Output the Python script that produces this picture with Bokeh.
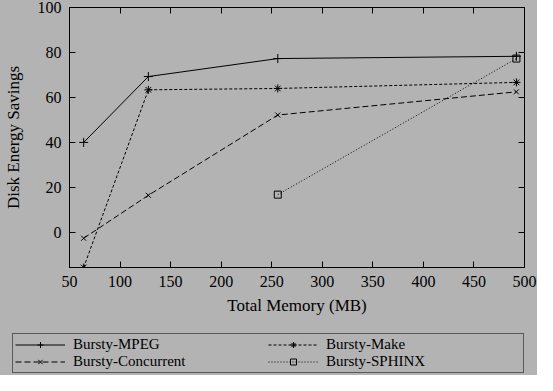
from bokeh.plotting import figure
from bokeh.layouts import column
from bokeh.models import Range1d, FixedTicker, Legend, LegendItem, LinearAxis, CustomJSTickFormatter
from bokeh.embed import file_html
from bokeh.resources import INLINE

memory = [64, 128, 256, 492]
mpeg = [40, 69.3, 77.3, 78.3]
make = [-15.6, 63.4, 64.0, 66.7]
concurrent = [-2.6, 16.5, 52.2, 62.5]
sphinx_mem = [256, 492]
sphinx = [16.8, 77.3]

x_ticks = [50, 100, 150, 200, 250, 300, 350, 400, 450, 500]
y_ticks = [0, 20, 40, 60, 80, 100]

BG = "#b3b3b3"
FONT = "Liberation Serif"

p = figure(width=537, height=332, output_backend="svg", toolbar_location=None,
           x_range=Range1d(50, 500), y_range=Range1d(-15.6, 100),
           background_fill_color=BG, border_fill_color=BG,
           min_border_left=69, min_border_right=13, min_border_top=7, min_border_bottom=65)
p.grid.visible = False
p.outline_line_color = "black"
p.outline_line_width = 1

for ax in (p.xaxis[0], p.yaxis[0]):
    ax.minor_tick_line_color = None
    ax.major_tick_in = 6
    ax.major_tick_out = 0
    ax.major_label_text_font = FONT
    ax.major_label_text_font_size = "16px"
    ax.major_label_text_color = "black"
    ax.axis_label_text_font = FONT
    ax.axis_label_text_font_size = "17px"
    ax.axis_label_text_font_style = "normal"
    ax.axis_label_text_color = "black"
    ax.axis_line_color = "black"
p.xaxis.ticker = FixedTicker(ticks=x_ticks)
p.yaxis.ticker = FixedTicker(ticks=y_ticks)
p.xaxis.axis_label = "Total Memory (MB)"
p.yaxis.axis_label = "Disk Energy Savings"
p.xaxis.major_label_standoff = 8
p.xaxis.axis_label_standoff = 6
p.yaxis.major_label_standoff = 8
p.yaxis.axis_label_standoff = 12

blank = CustomJSTickFormatter(code="return '';")
r_axis = LinearAxis(ticker=FixedTicker(ticks=y_ticks), major_tick_in=6, major_tick_out=0,
                    minor_tick_line_color=None, formatter=blank,
                    axis_line_color="black", major_label_standoff=0)
t_axis = LinearAxis(ticker=FixedTicker(ticks=x_ticks), major_tick_in=6, major_tick_out=0,
                    minor_tick_line_color=None, formatter=blank,
                    axis_line_color="black", major_label_standoff=0)
p.add_layout(r_axis, "right")
p.add_layout(t_axis, "above")

styles = [
    ("Bursty-MPEG", memory, mpeg, "solid", "cross", 9),
    ("Bursty-Concurrent", memory, concurrent, "6 3", "x", 7),
    ("Bursty-Make", memory, make, "3 2", "asterisk", 8),
    ("Bursty-SPHINX", sphinx_mem, sphinx, "1 2", "square", 7),
]
for name, xs, ys, dash, mk, sz in styles:
    p.line(xs, ys, line_color="black", line_width=1, line_dash=dash)
    p.scatter(xs, ys, marker=mk, size=sz, line_color="black", fill_color=None)

# legend panel below the chart (its data lies outside its view; only the legend shows)
p2 = figure(width=537, height=43, output_backend="svg", toolbar_location=None,
            x_range=Range1d(0, 1), y_range=Range1d(0, 1),
            background_fill_color=BG, border_fill_color=BG,
            min_border_left=0, min_border_right=0, min_border_top=0, min_border_bottom=0)
p2.axis.visible = False
p2.grid.visible = False
p2.outline_line_color = None
p2.frame_align = False

items = []
for name, xs, ys, dash, mk, sz in styles:
    lr = p2.line(xs, ys, line_color="black", line_width=1, line_dash=dash)
    sr = p2.scatter(xs, ys, marker=mk, size=sz, line_color="black", fill_color=None)
    items.append(LegendItem(label=name, renderers=[lr, sr]))

legend = Legend(items=items,
                ncols=2, location=(12, 2), background_fill_color=BG, background_fill_alpha=1,
                border_line_color="black", border_line_width=1,
                label_text_font=FONT, label_text_font_size="15px", label_text_color="black",
                glyph_width=50, glyph_height=15, label_height=15, label_width=195,
                label_standoff=8, spacing=0, padding=2, margin=0)
p2.add_layout(legend, "center")

layout = column(p, p2, spacing=0, styles={"background-color": BG})
open("out.html", "w").write(file_html(layout, INLINE))
